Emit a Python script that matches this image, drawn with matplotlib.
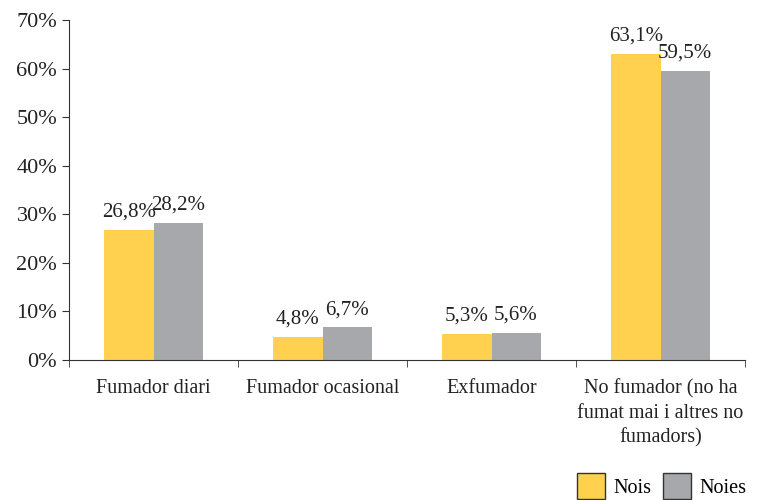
import numpy as np
import matplotlib
matplotlib.use('Agg')
from matplotlib import pyplot as plt
from matplotlib.ticker import FuncFormatter

categories = ['Fumador diari', 'Fumador ocasional', 'Exfumador',
              'No fumador (no ha\nfumat mai i altres no\nfumadors)']
nois = [26.8, 4.8, 5.3, 63.1]
noies = [28.2, 6.7, 5.6, 59.5]
series_names = ['Nois', 'Noies']
colors = ['#FFD14F', '#A7A8AC']

plt.rcParams['font.family'] = ['Liberation Serif', 'DejaVu Serif']

fig = plt.figure(figsize=(7.57, 5.0), dpi=100)
ax = fig.add_axes([69 / 757, 1 - 360 / 500, (745 - 69) / 757, 340 / 500])

x = np.arange(len(categories))
w = 0.29
b1 = ax.bar(x - w / 2, nois, w, color=colors[0], label=series_names[0])
b2 = ax.bar(x + w / 2, noies, w, color=colors[1], label=series_names[1])

def fmt(v):
    return ('%.1f%%' % v).replace('.', ',')

for bars, vals in ((b1, nois), (b2, noies)):
    for r, v in zip(bars, vals):
        ax.annotate(fmt(v), (r.get_x() + r.get_width() / 2, v),
                    xytext=(0, 6), textcoords='offset points',
                    ha='center', va='bottom', fontsize=15, color='#222222')

ax.set_ylim(0, 70)
ax.set_yticks(range(0, 71, 10))
ax.yaxis.set_major_formatter(FuncFormatter(lambda v, p: '%d%%' % v))
ax.set_xlim(-0.5, len(categories) - 0.5)
ax.set_xticks(x)
ax.set_xticklabels(categories, fontsize=14.5, color='#222222', linespacing=1.35)
ax.set_xticks(np.arange(-0.5, len(categories)), minor=True)
ax.tick_params(axis='x', which='major', length=0, pad=14)
ax.tick_params(axis='x', which='minor', length=5, color='#333333')
ax.tick_params(axis='y', length=5, labelsize=16, color='#333333', labelcolor='#222222')
for s in ['top', 'right']:
    ax.spines[s].set_visible(False)
ax.spines['left'].set_color('#333333')
ax.spines['bottom'].set_color('#333333')

handles = [plt.Rectangle((0, 0), 1, 1, facecolor=c, edgecolor='#333333') for c in colors]
fig.legend(handles, series_names, loc='lower right', bbox_to_anchor=(1.01, -0.035),
           ncol=2, frameon=False, fontsize=14.5, handlelength=1.4, handleheight=1.6,
           handletextpad=0.4, columnspacing=0.6)

fig.savefig('out.png', dpi=100)
